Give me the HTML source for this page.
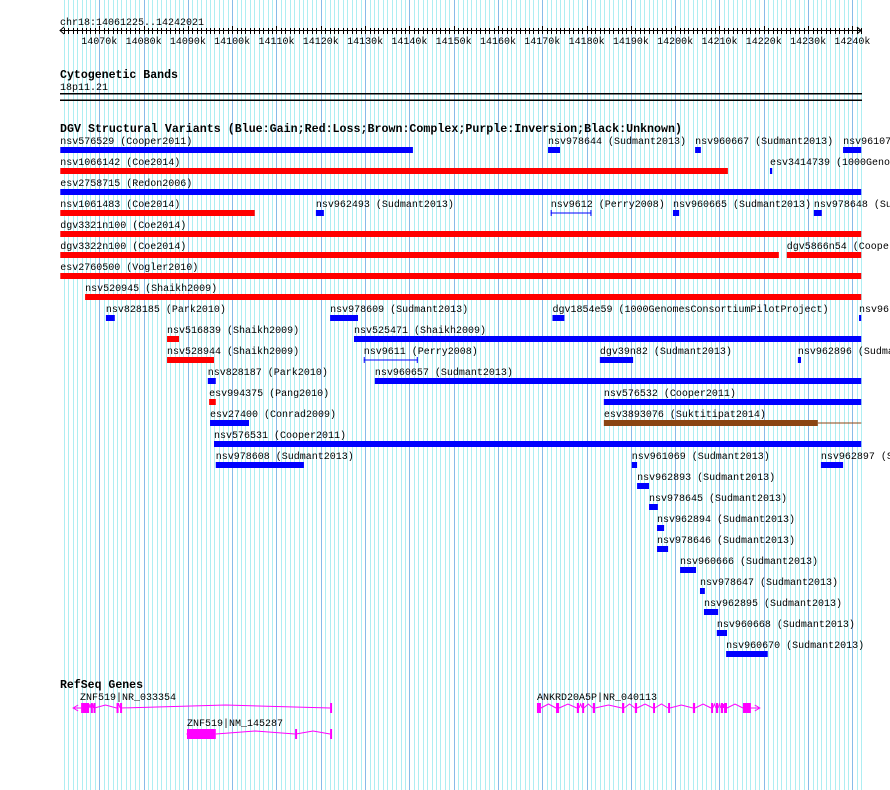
<!DOCTYPE html>
<html><head><meta charset="utf-8"><style>
html,body{margin:0;padding:0;background:#fff;}
svg{display:block;font-family:"Liberation Mono",monospace;}
</style></head><body>
<svg id="c" width="890" height="790" xmlns="http://www.w3.org/2000/svg"></svg>
<script>
// ---- data (kb coordinates) ----
const viewStart = 14061.225;
const viewEnd = 14242.021;
const rulerTicks = [14070,14080,14090,14100,14110,14120,14130,14140,14150,14160,14170,14180,14190,14200,14210,14220,14230,14240];
// variants: rows, names, starts, ends, colors, styles
const svRow   = [0,0,0,0, 1,1, 2, 3,3,3,3,3, 4, 5,5, 6, 7, 8,8,8,8, 9,9, 10,10,10,10, 11,11, 12,12, 13,13, 14, 15,15,15, 16,17,18,19,20,21,22,23,24];
const svName  = ["nsv576529 (Cooper2011)","nsv978644 (Sudmant2013)","nsv960667 (Sudmant2013)","nsv96107",
 "nsv1066142 (Coe2014)","esv3414739 (1000Geno",
 "esv2758715 (Redon2006)",
 "nsv1061483 (Coe2014)","nsv962493 (Sudmant2013)","nsv9612 (Perry2008)","nsv960665 (Sudmant2013)","nsv978648 (Su",
 "dgv3321n100 (Coe2014)",
 "dgv3322n100 (Coe2014)","dgv5866n54 (Cooper",
 "esv2760500 (Vogler2010)",
 "nsv520945 (Shaikh2009)",
 "nsv828185 (Park2010)","nsv978609 (Sudmant2013)","dgv1854e59 (1000GenomesConsortiumPilotProject)","nsv96",
 "nsv516839 (Shaikh2009)","nsv525471 (Shaikh2009)",
 "nsv528944 (Shaikh2009)","nsv9611 (Perry2008)","dgv39n82 (Sudmant2013)","nsv962896 (Sudmant2013)",
 "nsv828187 (Park2010)","nsv960657 (Sudmant2013)",
 "esv994375 (Pang2010)","nsv576532 (Cooper2011)",
 "esv27400 (Conrad2009)","esv3893076 (Suktitipat2014)",
 "nsv576531 (Cooper2011)",
 "nsv978608 (Sudmant2013)","nsv961069 (Sudmant2013)","nsv962897 (Sudmant2013)",
 "nsv962893 (Sudmant2013)","nsv978645 (Sudmant2013)","nsv962894 (Sudmant2013)","nsv978646 (Sudmant2013)","nsv960666 (Sudmant2013)","nsv978647 (Sudmant2013)","nsv962895 (Sudmant2013)","nsv960668 (Sudmant2013)","nsv960670 (Sudmant2013)"];
const svStart = [14061.2,14171.3,14204.5,14237.9, 14061.2,14221.4, 14061.2, 14061.2,14118.9,14171.9,14199.5,14231.3, 14061.2, 14061.2,14225.2, 14061.2, 14066.8, 14071.5,14122.1,14172.3,14241.5, 14085.3,14127.5, 14085.3,14129.7,14183.0,14227.7, 14094.5,14132.2, 14094.8,14183.9, 14095.0,14183.9, 14095.9, 14096.3,14190.2,14232.9, 14191.4,14194.1,14195.9,14195.9,14201.1,14205.6,14206.5,14209.4,14211.5];
const svEnd   = [14140.8,14174.0,14205.8,14242.0, 14211.9,14221.9, 14242.0, 14105.1,14120.7,14181.1,14200.9,14233.1, 14242.0, 14223.4,14242.0, 14242.0, 14242.0, 14073.5,14128.4,14175.0,14242.0, 14088.0,14242.0, 14095.9,14141.9,14190.5,14228.4, 14096.3,14242.0, 14096.3,14242.0, 14103.8,14232.2, 14242.0, 14116.2,14191.4,14237.9, 14194.1,14196.1,14197.5,14198.4,14204.7,14206.7,14209.7,14211.7,14220.9];
const svColor = ["b","b","b","b", "r","b", "b", "r","b","b","b","b", "r", "r","r", "r", "r", "b","b","b","b", "r","b", "r","b","b","b", "b","b", "r","b", "b","n", "b", "b","b","b", "b","b","b","b","b","b","b","b","b"];
const svLineStyle = [0,0,0,0, 0,0, 0, 0,0,1,0,0, 0, 0,0, 0, 0, 0,0,0,0, 0,0, 0,1,0,0, 0,0, 0,0, 0,2, 0, 0,0,0, 0,0,0,0,0,0,0,0,0];
// genes
const geneNames = ["ZNF519|NR_033354","ZNF519|NM_145287","ANKRD20A5P|NR_040113"];
const geneStart = [14064.1,14089.8,14168.8];
const geneEnd = [14122.3,14122.3,14219.1];
const geneRow = [0,1,0];
const geneExonStarts = [
 [14065.9,14068.1,14068.7,14073.9,14074.7,14122.1],
 [14089.8,14114.2,14122.1],
 [14168.8,14173.1,14177.8,14179.0,14181.4,14188.0,14190.9,14195.0,14198.4,14204.0,14208.1,14209.2,14210.3,14211.0,14215.3]];
const geneExonEnds = [
 [14067.7,14068.3,14068.9,14074.1,14074.9,14122.3],
 [14096.3,14114.4,14122.3],
 [14169.7,14173.8,14178.3,14179.4,14181.9,14188.5,14191.4,14195.4,14198.8,14204.5,14208.5,14209.7,14210.8,14211.7,14217.1]];
const geneStrand = ["-","-","+"];

// ---- drawing ----
const NS="http://www.w3.org/2000/svg";
const svg=document.getElementById('c');
const X0=60.4, PX=4.43;
function xs(kb){return X0+(kb-viewStart)*PX;}
function el(tag,attrs,parent){const e=document.createElementNS(NS,tag);for(const k in attrs)e.setAttribute(k,attrs[k]);(parent||svg).appendChild(e);return e;}
const colors={b:"#0000ff",r:"#ff0000",n:"#8b4513"};

// grid
const grid=el('g',{});


for(let k=Math.ceil(viewStart);k<=viewEnd;k++){
  const x=Math.round(xs(k))+0.5;
  el('line',{x1:x,x2:x,y1:0,y2:790,stroke:(k%10===0)?"#88bbe8":"#aeeef2","stroke-width":1},grid);
}
// ruler
const rul=el('g',{});


const pos=el('text',{x:60,y:25,"font-size":"10px",fill:"#000"},rul);pos.textContent="chr18:14061225..14242021";


el('line',{x1:60,x2:861,y1:30.5,y2:30.5,stroke:"#000"},rul);
el('polyline',{points:"64,27 60,30.5 64,34",fill:"none",stroke:"#000"},rul);
el('polyline',{points:"857,27 861,30.5 857,34",fill:"none",stroke:"#000"},rul);
for(let k=Math.ceil(viewStart);k<=viewEnd;k++){
  const x=Math.round(xs(k))+0.5;
  el('line',{x1:x,x2:x,y1:(k%10===0)?26:28,y2:34,stroke:"#000"},rul);
}
rulerTicks.forEach(t=>{
  const tx=el('text',{x:xs(t),y:44,"font-size":"10px","text-anchor":"middle",fill:"#000"},rul);
  tx.textContent=t+"k";
  
  
});
function title(txt,y,name,len){const t=el('text',{x:60,y:y,"font-size":"11.5px","font-weight":"bold",fill:"#000",textLength:len,lengthAdjust:"spacingAndGlyphs"});t.textContent=txt;
 
 }
title("Cytogenetic Bands",78,'cytoband-title',118);
const cb=el('text',{x:60,y:90,"font-size":"10px",fill:"#000"});cb.textContent="18p11.21";


el('rect',{x:60,y:93,width:802,height:1.5,fill:"#000"});
el('rect',{x:60,y:99.5,width:802,height:1.5,fill:"#000"});
title("DGV Structural Variants (Blue:Gain;Red:Loss;Brown:Complex;Purple:Inversion;Black:Unknown)",132,'dgv-title',622);

// variants
for(let i=0;i<svName.length;i++){
  const g=el('g',{});
  
  
  const y=147+21*svRow[i];
  const x1=xs(svStart[i]), x2=xs(svEnd[i]);
  const lx=Math.max(60,x1);
  const t=el('text',{x:lx,y:y-3,"font-size":"10px",fill:"#000"},g);t.textContent=svName[i];
  const c=colors[svColor[i]];
  if(svLineStyle[i]===1){
    el('line',{x1:x1,x2:x2,y1:y+3,y2:y+3,stroke:c},g);
    el('line',{x1:x1+0.5,x2:x1+0.5,y1:y,y2:y+6,stroke:c},g);
    el('line',{x1:x2-0.5,x2:x2-0.5,y1:y,y2:y+6,stroke:c},g);
  } else if(svLineStyle[i]===2){
    el('rect',{x:x1,y:y,width:x2-x1,height:6,fill:c},g);
    el('line',{x1:x2,x2:xs(viewEnd),y1:y+3,y2:y+3,stroke:c},g);
  } else {
    el('rect',{x:x1,y:y,width:Math.max(2,x2-x1),height:6,fill:c},g);
  }
}

// genes
title("RefSeq Genes",688,'refseq-title',83);
for(let i=0;i<geneNames.length;i++){
  const g=el('g',{});
  
  
  const yc=708+26*geneRow[i];
  const xa=xs(geneStart[i]), xb=xs(geneEnd[i]);
  const t=el('text',{x:(i===0?80:xa),y:yc-8,"font-size":"10px",fill:"#000"},g);t.textContent=geneNames[i];
  const mag="#ff00ff";
  const es=geneExonStarts[i], ee=geneExonEnds[i];
  if(geneStrand[i]==="-") el('line',{x1:xa,x2:xs(es[0]),y1:yc,y2:yc,stroke:mag},g);
  for(let j=0;j<es.length-1;j++){
    const a=xs(ee[j]), b=xs(es[j+1]), m=(a+b)/2;
    el('polyline',{points:`${a},${yc} ${m},${yc-(b-a>20?3:4)} ${b},${yc}`,fill:"none",stroke:mag},g);
  }
  if(geneStrand[i]==="+") el('line',{x1:xs(ee[ee.length-1]),x2:xb,y1:yc,y2:yc,stroke:mag},g);
  for(let j=0;j<es.length;j++){
    const a=xs(es[j]), b=xs(ee[j]);
    const w=Math.max(2,b-a);
    el('rect',{x:a,y:yc-5,width:w,height:10,fill:mag},g);
  }
  if(geneStrand[i]==="-") el('polyline',{points:`${xa+5},${yc-3} ${xa},${yc} ${xa+5},${yc+3}`,fill:"none",stroke:mag},g);
  else el('polyline',{points:`${xb-5},${yc-3} ${xb},${yc} ${xb-5},${yc+3}`,fill:"none",stroke:mag},g);
}
</script>
</body></html>
